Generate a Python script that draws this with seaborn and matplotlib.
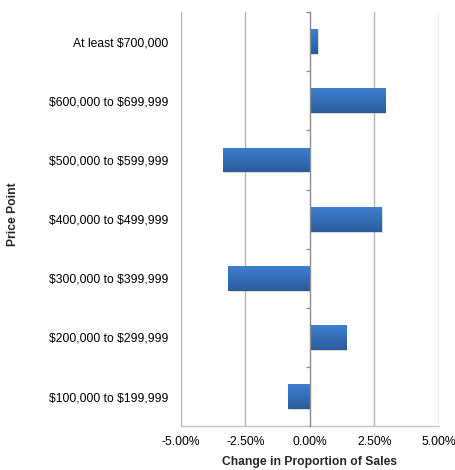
import matplotlib
matplotlib.use("Agg")
import matplotlib.pyplot as plt
import matplotlib.patheffects as pe
import matplotlib.ticker as mticker
import numpy as np
import pandas as pd
import seaborn as sns

categories = ["At least $700,000", "$600,000 to $699,999", "$500,000 to $599,999",
              "$400,000 to $499,999", "$300,000 to $399,999", "$200,000 to $299,999",
              "$100,000 to $199,999"]
values = [0.30, 2.93, -3.36, 2.78, -3.15, 1.42, -0.86]
xticks = [-5.0, -2.5, 0.0, 2.5, 5.0]

sns.set_theme(style="white")
plt.rcParams['font.family'] = ['Liberation Sans', 'DejaVu Sans']
plt.rcParams['text.parse_math'] = False

df = pd.DataFrame({"cat": categories, "val": values})

fig = plt.figure(figsize=(4.55, 4.70), dpi=100)
ax = fig.add_axes([180.7/455, 1-426.2/470, (438.7-180.7)/455, (426.2-12)/470])

sns.barplot(data=df, x="val", y="cat", order=categories, orient="h",
            color="#3570b8", width=0.42, ax=ax, zorder=3)

ax.set_xlim(-5, 5)
ax.set_ylim(len(categories)-0.5, -0.5)

# gradient fill + soft shadow
grad = np.linspace(0, 1, 64).reshape(-1, 1)
cmap = matplotlib.colors.LinearSegmentedColormap.from_list("g", ["#3e7fcf", "#2b5c9c"])
for p in ax.patches:
    x0, y0, w, h = p.get_x(), p.get_y(), p.get_width(), p.get_height()
    p.set_edgecolor("none")
    p.set_path_effects([pe.SimplePatchShadow(offset=(0.8, -0.8), shadow_rgbFace="#888888", alpha=0.3), pe.Normal()])
    im = ax.imshow(grad, cmap=cmap, aspect="auto", origin="upper",
                   extent=(x0, x0 + w, y0 + h, y0), zorder=4, interpolation="bilinear")
    im.set_clip_path(p)
ax.set_xlim(-5, 5)
ax.set_ylim(len(categories)-0.5, -0.5)

# grid
ax.set_xticks(xticks)
ax.xaxis.set_major_formatter(mticker.FuncFormatter(lambda v, _: f"{v:.2f}%"))
for t in xticks:
    if t != 0:
        ax.axvline(t, color="#b4b4b4", lw=1.0, zorder=1)

for s in ["top", "right"]:
    ax.spines[s].set_visible(False)
ax.spines["bottom"].set_color("#c4c4c4")
ax.spines["bottom"].set_linewidth(1.0)
ax.spines["left"].set_position(("data", 0))
ax.spines["left"].set_color("#8c8c8c")
ax.spines["left"].set_linewidth(1.0)
ax.spines["left"].set_zorder(5)

ax.set_yticks(range(len(categories)))
ax.set_yticklabels(categories)
ax.yaxis.set_minor_locator(mticker.FixedLocator(np.arange(-0.5, len(categories), 1.0)))
ax.tick_params(axis="y", which="major", length=0, pad=101.5, labelsize=8.7, colors="black")
ax.tick_params(axis="y", which="minor", left=True, length=3, width=0.9, color="#8c8c8c", direction="out")
ax.tick_params(axis="x", length=0, pad=7, labelsize=8.7, colors="black")
for lbl in ax.get_yticklabels():
    lbl.set_horizontalalignment("right")

ax.set_ylabel("")
ax.set_xlabel("Change in Proportion of Sales", fontsize=8.7, fontweight="bold", labelpad=6)
fig.text(13/455, 1-214/470, "Price Point", rotation=90, fontsize=8.7, fontweight="bold",
         ha="center", va="center")

fig.savefig("out.png", dpi=100)
